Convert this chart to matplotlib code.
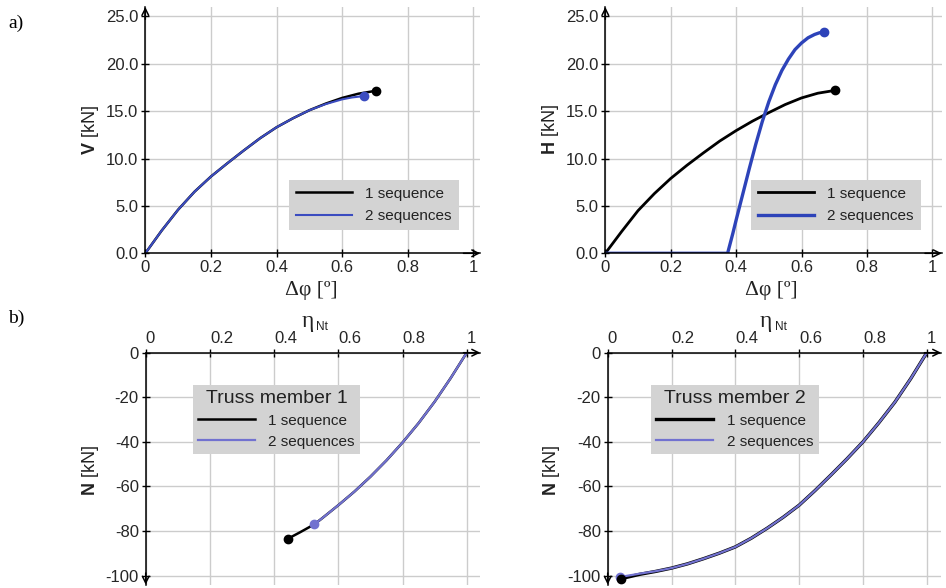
import matplotlib
matplotlib.use("Agg")
import matplotlib.pyplot as plt

# ---- data ----
# a) V and H vs rotation increment
phi_v1 = [0, 0.025, 0.05, 0.075, 0.1, 0.15, 0.2, 0.25, 0.3, 0.35, 0.4, 0.45, 0.5,
          0.55, 0.6, 0.65, 0.702]
v1 = [0, 1.2, 2.4, 3.5, 4.6, 6.5, 8.1, 9.5, 10.85, 12.15, 13.3, 14.25, 15.1,
      15.8, 16.4, 16.85, 17.15]
phi_v2 = [0, 0.025, 0.05, 0.075, 0.1, 0.15, 0.2, 0.25, 0.3, 0.35, 0.4, 0.45, 0.5,
          0.55, 0.6, 0.63, 0.666]
v2 = [0, 1.2, 2.4, 3.5, 4.6, 6.5, 8.1, 9.5, 10.85, 12.15, 13.3, 14.25, 15.1,
      15.75, 16.25, 16.45, 16.6]

phi_h1 = [0, 0.025, 0.05, 0.075, 0.1, 0.15, 0.2, 0.25, 0.3, 0.35, 0.4, 0.45, 0.5,
          0.55, 0.6, 0.65, 0.703]
h1 = [0, 1.15, 2.3, 3.4, 4.5, 6.3, 7.9, 9.3, 10.6, 11.85, 12.95, 13.95, 14.85,
      15.7, 16.4, 16.9, 17.2]
phi_h2 = [0, 0.374, 0.39, 0.40, 0.42, 0.44, 0.46, 0.48, 0.50, 0.52, 0.54, 0.56,
          0.58, 0.60, 0.62, 0.64, 0.655, 0.669]
h2 = [0, 0, 2.1, 3.5, 6.2, 8.9, 11.5, 13.9, 16.0, 17.8, 19.3, 20.5,
      21.5, 22.2, 22.75, 23.1, 23.28, 23.35]

# b) axial force vs utilisation
eta_n1_1 = [0.442, 0.48, 0.525, 0.55, 0.6, 0.65, 0.7, 0.75, 0.8, 0.85, 0.9, 0.95, 1.0]
n1_1 = [-83.5, -80.6, -77.0, -74.2, -68.4, -62.3, -55.6, -48.3, -40.3, -31.6, -22.0, -11.4, 0]
eta_n1_2 = [0.525, 0.55, 0.6, 0.65, 0.7, 0.75, 0.8, 0.85, 0.9, 0.95, 1.0]
n1_2 = [-77.0, -74.2, -68.4, -62.3, -55.6, -48.3, -40.3, -31.6, -22.0, -11.4, 0]

eta_n2_1 = [0.043, 0.1, 0.15, 0.2, 0.25, 0.3, 0.35, 0.4, 0.45, 0.5, 0.55, 0.6, 0.65,
            0.7, 0.75, 0.8, 0.85, 0.9, 0.95, 1.0]
n2_1 = [-101.3, -99.4, -98.1, -96.6, -94.7, -92.4, -89.9, -87.1, -83.2, -78.7, -73.8,
        -68.4, -61.8, -54.8, -47.6, -40.0, -31.4, -22.2, -11.6, 0]
eta_n2_2 = [0.038, 0.1, 0.15, 0.2, 0.25, 0.3, 0.35, 0.4, 0.45, 0.5, 0.55, 0.6, 0.65,
            0.7, 0.75, 0.8, 0.85, 0.9, 0.95, 1.0]
n2_2 = [-100.6, -99.1, -98.0, -96.6, -94.7, -92.4, -89.9, -87.1, -83.2, -78.7, -73.8,
        -68.4, -61.8, -54.8, -47.6, -40.0, -31.4, -22.2, -11.6, 0]

x_ticks = [0, 0.2, 0.4, 0.6, 0.8, 1.0]
x_ticklabels = ["0", "0.2", "0.4", "0.6", "0.8", "1"]
top_yticks = [0, 5, 10, 15, 20, 25]
top_yticklabels = ["0.0", "5.0", "10.0", "15.0", "20.0", "25.0"]
bot_yticks = [0, -20, -40, -60, -80, -100]
bot_yticklabels = ["0", "-20", "-40", "-60", "-80", "-100"]
labels = ["1 sequence", "2 sequences"]

plt.rcParams["font.family"] = "Liberation Sans"
plt.rcParams["mathtext.fontset"] = "custom"
plt.rcParams["mathtext.rm"] = "Liberation Sans"
plt.rcParams["mathtext.bf"] = "Liberation Sans:bold"

W, H = 946, 588
fig = plt.figure(figsize=(W / 100, H / 100), dpi=100)


def box(x0, y0, x1, y1):
    # pixel rectangle (origin top-left) -> figure fraction
    return [x0 / W, 1 - y1 / H, (x1 - x0) / W, (y1 - y0) / H]


def arrow(ax, xy, xytext):
    ax.annotate("", xy=xy, xytext=xytext, xycoords="axes fraction",
                arrowprops=dict(arrowstyle="->", color="k", lw=1.1,
                                shrinkA=0, shrinkB=0, mutation_scale=12),
                annotation_clip=False)


def style(ax, top):
    ax.grid(True, color="#cccccc", lw=1)
    ax.set_axisbelow(True)
    ax.tick_params(direction="inout", length=6, width=1, labelsize=12,
                   labelcolor="#262626", pad=2)
    for s in ax.spines.values():
        s.set_linewidth(1.1)
    ax.set_xticks(x_ticks)
    if top:
        ax.spines["top"].set_visible(False)
        ax.spines["right"].set_visible(False)
        ax.set_xticklabels(x_ticklabels)
        ax.set_yticks(top_yticks)
        ax.set_yticklabels(top_yticklabels)
        arrow(ax, (1, 0), (0.95, 0))
        arrow(ax, (0, 1), (0, 0.95))
    else:
        ax.spines["bottom"].set_visible(False)
        ax.spines["right"].set_visible(False)
        ax.xaxis.tick_top()
        ax.set_xticklabels(x_ticklabels, ha="left")
        ax.set_yticks(bot_yticks)
        ax.set_yticklabels(bot_yticklabels)
        arrow(ax, (1, 1), (0.95, 1))
        arrow(ax, (0, 0), (0, 0.05))


def top_legend(ax, handles, x0):
    ax.legend(handles, labels, loc="lower left", bbox_to_anchor=(x0, 0.095),
              borderaxespad=0, facecolor="#d3d3d3", edgecolor="none",
              framealpha=1, fancybox=False, fontsize=11, handlelength=3.7,
              handletextpad=0.85, labelspacing=0.55, borderpad=0.45,
              labelcolor="#222222")


def bot_legend(ax, handles, x0, title):
    leg = ax.legend(handles, labels, loc="lower left", bbox_to_anchor=(x0, 0.563),
                    borderaxespad=0, facecolor="#d3d3d3", edgecolor="none",
                    framealpha=1, fancybox=False, fontsize=11, handlelength=3.7,
                    handletextpad=0.9, labelspacing=0.45, borderpad=0.35,
                    labelcolor="#222222", title=title, title_fontsize=14)
    leg.get_title().set_color("#222222")


blue_a = "#3b4cc0"
blue_b = "#2d43b9"
blue_c = "#7272d0"

# a) left: V
ax1 = fig.add_axes(box(145.3, 7, 480.2, 253.3))
ax1.set_xlim(0, 1.021)
ax1.set_ylim(0, 26.0)
l1, = ax1.plot(phi_v1, v1, color="k", lw=1.8)
l2, = ax1.plot(phi_v2, v2, color=blue_a, lw=1.5)
ax1.plot(phi_v1[-1], v1[-1], "o", color="k", ms=6)
ax1.plot(phi_v2[-1], v2[-1], "o", color=blue_a, ms=6)
style(ax1, True)
top_legend(ax1, [l1, l2], 0.429)

# a) right: H
ax2 = fig.add_axes(box(605.3, 7, 941.8, 253.3))
ax2.set_xlim(0, 1.029)
ax2.set_ylim(0, 26.0)
l1, = ax2.plot(phi_h1, h1, color="k", lw=2)
l2, = ax2.plot(phi_h2, h2, color=blue_b, lw=2.4)
ax2.plot(phi_h1[-1], h1[-1], "o", color="k", ms=6)
ax2.plot(phi_h2[-1], h2[-1], "o", color=blue_b, ms=6)
style(ax2, True)
top_legend(ax2, [l1, l2], 0.433)

# b) left: truss member 1
ax3 = fig.add_axes(box(145.7, 352.7, 480.2, 584.6))
ax3.set_xlim(0, 1.042)
ax3.set_ylim(-104, 0)
l1, = ax3.plot(eta_n1_1, n1_1, color="k", lw=1.8)
l2, = ax3.plot(eta_n1_2, n1_2, color=blue_c, lw=1.6)
ax3.plot(eta_n1_1[0], n1_1[0], "o", color="k", ms=6)
ax3.plot(eta_n1_2[0], n1_2[0], "o", color=blue_c, ms=6)
style(ax3, False)
bot_legend(ax3, [l1, l2], 0.141, "Truss member 1")

# b) right: truss member 2
ax4 = fig.add_axes(box(607.7, 352.7, 941.1, 584.6))
ax4.set_xlim(0, 1.045)
ax4.set_ylim(-104, 0)
l1, = ax4.plot(eta_n2_1, n2_1, color="k", lw=2.4)
l2, = ax4.plot(eta_n2_2, n2_2, color=blue_c, lw=1.6)
ax4.plot(eta_n2_2[0], n2_2[0], "o", color=blue_c, ms=6)
ax4.plot(eta_n2_1[0], n2_1[0], "o", color="k", ms=6)
style(ax4, False)
bot_legend(ax4, [l1, l2], 0.130, "Truss member 2")


def ftext(x, y, s, **kw):
    fig.text(x / W, 1 - y / H, s, **kw)


serif = "Liberation Serif"
ftext(16, 23, "a)", family=serif, fontsize=14, ha="center", va="center")
ftext(16, 318, "b)", family=serif, fontsize=14, ha="center", va="center")

for x in (311.7, 771.7):
    ftext(x, 290.5, "\u0394\u03c6 [\u00ba]", family=serif, fontsize=15.5,
          color="#222222", ha="center", va="center")

for x in (301.5, 760):
    ftext(x, 327, "\u03b7", family=serif, fontsize=17, color="#222222",
          ha="left", va="baseline")
    ftext(x + 14.5, 330, "Nt", fontsize=8.5, color="#222222",
          ha="left", va="baseline")

ylabs = [(90.5, 130, r"$\mathbf{V}$ [kN]"), (550.5, 130, r"$\mathbf{H}$ [kN]"),
         (90.5, 471, r"$\mathbf{N}$ [kN]"), (551, 471, r"$\mathbf{N}$ [kN]")]
for x, y, s in ylabs:
    ftext(x, y, s, fontsize=13, rotation=90, color="#222222",
          ha="center", va="center")

fig.savefig("out.png", dpi=100)
